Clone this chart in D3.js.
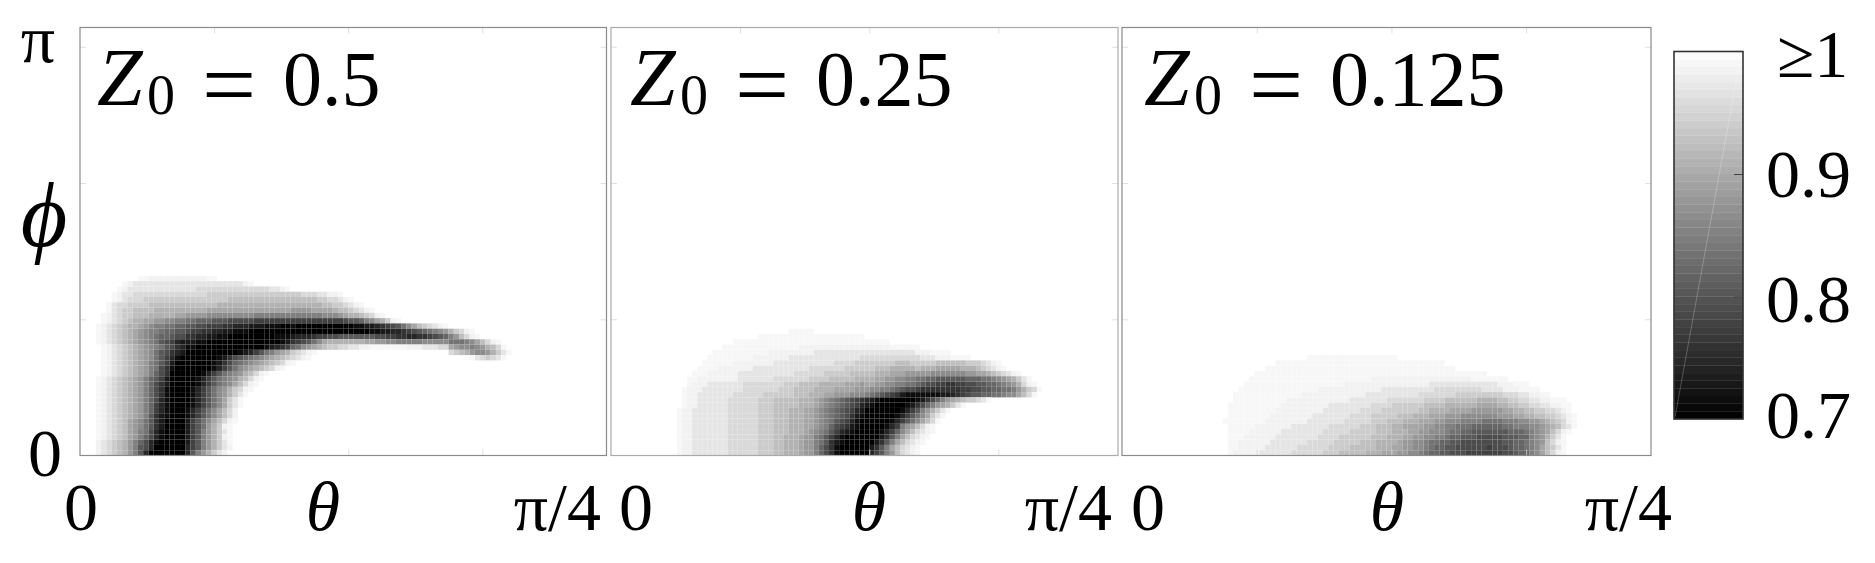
<!DOCTYPE html>
<html>
<head>
<meta charset="utf-8">
<script src="https://cdn.jsdelivr.net/npm/d3@7"></script>
<style>
	body { margin: 0; background: #fff; }
	text { font-family: "Liberation Serif", "Times New Roman", serif; fill: #000; }
</style>
</head>
<body>
<div id="chart"></div>
<script>
// one character per cell. "0" is 0.7 (black), each next key
// is a step lighter up to "k", "." means 1 or more (white). Spaces only keep the columns readable.
// rows run top to bottom, the last row sits on phi = 0, columns start at theta = 0
var rowsHalf = [
	".......... .kkjjjjjjj jjjjkk",
	"........kj iiiiiiiiii iiiiiiiiii ijk",
	".......kji iiiiiiiiii iihhhhhhhh hhhhhhiijk",
	"......kjii hhhhhhhhhh hhhhgggggg gggggggggg gghhhiijjk",
	"......kjih hhgggggggg ggggggggff ffffffffff fffffgghhi jk",
	".....kihhg gggfffffff ffffffeeee eeeeeeeeee eeeeeeffgg hijk",
	".....kihgg ffffeeeeee eeeedddddd dddddddddd ccccddddef fghijk",
	"....kjihgg fffeeeeedd ccccbbbbbb bbbaaaaaaa aaaaaabbbc deefghjk",
	"....kjihgf eeddccbbaa 9988877766 6665555555 5555555555 6778abdegj k",
	"...kjihgfe edcbaa9988 7766555443 3322211100 1000000000 0011223456 79bdfghijk",
	"...kjihgfe dcbaa98877 6554433221 1100000000 0000000000 0000011223 3456789abc eghjk",
	"...kjihgfe dcba988766 4433221100 0000000111 2333455667 7777776655 4433445678 acfhjk",
	"...kjihgfe dcba976532 2211000000 0000000012 45679bdeee eeeeddccbb aaaaabbbbb 999abdfhjk",
	"....kjihgf edcba97643 1100000000 0000012345 89bcdefggh hiijjkkkkk kkjjjiiihh dcbbabcefh k",
	"....kjihgf edcb976432 0000000000 123579acde ghijk..... .......... .......... hgfecbbceg ik",
	"....kjihgf edcb975310 0000001246 789abcdefg hijk...... .......... .......... ....kihghi k",
	"....kjihgf edca975200 0000012468 9abcdefghj k",
	"....kjihgf edca964100 0000013579 bcdefghjk",
	"....kjihgf edca864000 0001357 9ab cefhjk",
	"...kjihgfe dca8752000 0013579abc efhjk",
	"...kjihgfe dca8642000 0013579abd fhjk",
	"...kjihgfe dca8641000 013579bceg hjk",
	"...kjihgfe dca8641000 013579bceg ik",
	"...kjihgfe dca8631000 013579bdgi k",
	"...kjihgfe dca8531000 013579bdgi k",
	"...kjihgfe dca8531000 13579bdfhj",
	"...kjihgfe dca7421000 13579bdfhj",
	"...kjihgfd cb97420000 2579bdfhjk",
	"...kjihgfd cb97420000 2579cegjk",
	"...kjihgfd ca96310000 257acegik",
	"...kjihgfd ca86310000 257acegjk",
	"...jihgfec a863100000 257acegik",
	"...jihgfec a763000000 357acegij",
	"...jihgfec a730000000 37acegij"
];

var rowsQuarter = [
	".......... .......... .......... .....kkkkk",
	".......... .......... .........k kkkkkkkkkk kkkkkkkkkk",
	".......... .......... ....kkkkkk kkkkkkkkkk kkkkkkkkkk kkkkk",
	".......... .......... ..kkkkkkkk kkkkkkkjjj jjjjjjjjjj jjjjjkkkkk k",
	".......... .......... kkkkkkkkkk kjjjjjjjjj iiiiiiiiii iiiiiiiiii jjjkkkk",
	".......... .........k kkkkkkkkjj jjjjjiiiii iiiiiiiiih hhhhhhhhhh hiiijjjkkk k",
	".......... ........kk kkkkjjjjjj jjiiiiiiii iiiihhhhgg ggggggfffg ggggffffff ggghijk",
	".......... .......kkk kjjjjjjjii iiiiiiiiih hhhhhhgggg ggfffeeeee feeeddddde eefghijk",
	".......... ......kkkj jjjjjiiiii iiiiiihhhh hhgggggfff ffeeedddcc cccbbbbbbb ccddefghij k",
	".......... .....kkjjj jjjjjiiiii iihhhhhhhg gggfffffee eeddccbbaa 9988777777 88899abcde gik",
	".......... .....kjjji iiiiiihhhh hhhhgggfff feeeeedddc ddccbbaa99 8766554455 6677889abc ehjk",
	".......... ....kjjjii iiiiiihhhh hhhgggffff eeeeddddcc cbbaa98766 5444444445 566778899a ceghk",
	".......... ....kjjiii iiiihhhhhh ggggggfffe eeddcccbbb a987654211 1111122345 6778899abb dfhk",
	".......... ....kjjiii iiihhhhhhg ggfffffeee dcba987654 3210000000 12468acdef gghik",
	".......... ....kjjiii iiihhhhhhg ggfffffeee dcba987653 2100000012 468acdegik",
	".......... ...kjjiiii iiihhhhhhg ggfffeeedd cba9876532 0000000135 7acegik",
	".......... ...kjjiiii iiihhhhhhg ggfffeeedd cba9876421 0000001357 9bdgik",
	".......... ...kjjiiii iiihhhhhhg ggfffeeedd cba9765310 0000013579 bdfhk",
	".......... ...kjjiiii iiihhhhhhg ggfffeeedd cba8654210 0000135acd fhjk",
	".......... ...kjjiiii iiihhhhhhg ggfffeeedc ba97532100 0001358bdf hijk",
	".......... ...kjjiiii iiihhhhhhg ggffeeedcc a975310000 000247adfh ijk",
	".......... ...kjjiiii iiihhhhhhg ggffeeedcc a974210000 00247adfhi jk",
	".......... ...kjjiiii iiihhhhhhg ggffeeedcc a864100000 0247adfhij k",
	".......... ...kjjiiii iiihhhhhhg ggffeeedcc a864100000 0357acfhij k"
];

var rowsEighth = [
	".......... .......... .......... .....kkkkk kkkkkkkkkk kk",
	".......... .......... .........k kkkkkkkkkk kkkkkkkkkk kkkkkkkkkk k",
	".......... .......... .......kkk kkkkkkkkkk kkkkkkkkkk kkkkkkkkkk kkk",
	".......... .......... .....kkkkk kkkkkkkkkk kkkkkkkkkk kkkkkkkkkk kkkkkkkkk",
	".......... .......... ....kkkkkk kkkkkkkkkk kkkkkkkjjj jjjjjjjjjj jjjjjjkkkk kkk",
	".......... .......... ...kkkkkkk kkkkkkkkkk kkjjjjjjjj jjjjjjjjii iiiiiiiiii ijjjkkk",
	".......... .......... ..kkkkkkkk kkkkkkkjjj jjjjjjjjji iiiiiiiiih hhhhhhhhii iijjjkkkk",
	".......... .......... .kkkkkkkkk kkkkjjjjjj jjjjjjiiii iiiiiihhhh hhhggggggg gghhhiijjk k",
	".......... .......... .kkkkkkkkk kjjjjjjjjj jjjiiiiiii hhhhhhhggg gffffffeee effgghhiij jkkk",
	".......... .......... kkkkkkkkkk jjjjjjjjji iiiiiiihhh hggggggfff feeeeeeddd deeffgghhi ijjkk",
	".......... .......... kkkkkkkkkj jjjjjjjjii iiiiihhhhg ggggggffee eeddddcccc ccddeeffgg hhijk",
	".......... .......... kkkkkkkkjj jjjjjjiiii iiihhhhggg ggfffeeedd dcccbbbbbb bcccddeeff gghijk",
	".......... .........k kkkkkkkjjj jjjjjiiiii iihhhhhggg fffeeedddc cbbbaaaa99 99aaabbccd efghjk",
	".......... .......... kkkkkjjjjj jjiiiiiiih hhhhhgggff feeddddccb baa9998888 8899aaabbc defhik",
	".......... .......... kkkkjjjjjj iiiiiiiihh hhhgggggff feeeddccbb ba99887777 7778889abc dfhjk",
	".......... .......... kkkjjjjjji iiiiiiihhh hggggggfff eeeddccbba a988777666 6677788abc egik",
	".......... .......... kkjjjjjjii iiiiihhhhh gggggfffee eedccbba99 8877666666 6677889abc fhjk",
	".......... .......... kkjjjjjiii iiihhhhhhg gggfffffee eddccbba98 8776666665 6667889abd fgik",
	".......... .......... kjjjjjiiii iihhhhhhgg gfffffeeed ddccbba988 7766655555 5566788abd fhjk"
];

var panelRows = [rowsHalf, rowsQuarter, rowsEighth];
var panelLabels = ["0.5", "0.25", "0.125"];
var levelKeys = "0123456789abcdefghijk";
var thetaTicks = [0.2, 0.4, 0.6];
var phiTicks = [1, 2, 3];
var barTicks = [0.8, 0.9];
var barValues = [0.7, 0.8, 0.9, 1];
var barLabels = ["0.7", "0.8", "0.9", "\u22651"];
var xLabels = ["0", "\u03b8", "\u03c0/4"];

var nCols = 100;
var nRows = 81;

var panels = [
	{ left: 80, right: 606.5, frame: "#8a8a8a", labelX: 97, thetaX: 323, endX: 601, zeroX: 81 },
	{ left: 611, right: 1118, frame: "#aaaaaa", labelX: 630, thetaX: 869, endX: 1112, zeroX: 636 },
	{ left: 1122, right: 1651, frame: "#8a8a8a", labelX: 1144, thetaX: 1387, endX: 1672, zeroX: 1148 }
];
var plotTop = 27.5;
var plotBottom = 455.5;

var svg = d3.select("#chart")
	.append("svg")
	.attr("width", 1875)
	.attr("height", 563);

var color = d3.scaleLinear().domain([0.7, 1]).range(["#000000", "#ffffff"]);

function styleAxis(sel) {
	sel.select(".domain").remove();
	sel.selectAll(".tick line").attr("stroke", "#d8d8d8").attr("stroke-width", 0.8);
}

panels.forEach(function(p, i) {
	var g = svg.append("g");
	var x = d3.scaleBand().domain(d3.range(nCols)).range([p.left, p.right]);
	var y = d3.scaleBand().domain(d3.range(nRows)).range([plotBottom, plotTop]);

	var cells = [];
	var rows = panelRows[i];
	rows.forEach(function(row, ri) {
		row.replace(/ /g, "").split("").forEach(function(ch, c) {
			var k = levelKeys.indexOf(ch);
			if (k >= 0) {
				var grey = k == 20 ? 0.97 : k / 20;
				cells.push({ col: c, row: rows.length - 1 - ri, value: 0.7 + 0.3 * grey });
			}
		});
	});

	g.selectAll("rect.cell")
		.data(cells)
		.enter()
		.append("rect")
		.attr("class", "cell")
		.attr("x", function(d) { return x(d.col); })
		.attr("y", function(d) { return y(d.row); })
		.attr("width", x.bandwidth())
		.attr("height", y.bandwidth())
		.attr("fill", function(d) { return color(d.value); });

	// real axes of the plot, only very faint inner ticks are visible
	var tx = d3.scaleLinear().domain([0, Math.PI / 4]).range([p.left, p.right]);
	var ty = d3.scaleLinear().domain([0, Math.PI]).range([plotBottom, plotTop]);

	g.append("g")
		.attr("transform", "translate(0," + plotBottom + ")")
		.call(d3.axisBottom(tx).tickValues(thetaTicks).tickSize(-6).tickFormat(""))
		.call(styleAxis);
	g.append("g")
		.attr("transform", "translate(0," + plotTop + ")")
		.call(d3.axisTop(tx).tickValues(thetaTicks).tickSize(-6).tickFormat(""))
		.call(styleAxis);
	g.append("g")
		.attr("transform", "translate(" + p.left + ",0)")
		.call(d3.axisLeft(ty).tickValues(phiTicks).tickSize(-6).tickFormat(""))
		.call(styleAxis);
	g.append("g")
		.attr("transform", "translate(" + p.right + ",0)")
		.call(d3.axisRight(ty).tickValues(phiTicks).tickSize(-6).tickFormat(""))
		.call(styleAxis);

	g.append("rect")
		.attr("x", p.left)
		.attr("y", plotTop)
		.attr("width", p.right - p.left)
		.attr("height", plotBottom - plotTop)
		.attr("fill", "none")
		.attr("stroke", p.frame)
		.attr("stroke-width", 1.2);

	// Z0 = value
	g.append("text").attr("class", "lab").text("Z")
		.attr("x", p.labelX).attr("y", 105)
		.style("font-style", "italic").style("font-size", "82px");
	g.append("text").attr("class", "lab").text("0")
		.attr("x", p.labelX + 50).attr("y", 114)
		.style("font-size", "56px");
	g.append("text").attr("class", "lab").text("=")
		.attr("x", p.labelX + 105).attr("y", 117)
		.style("font-size", "96px");
	g.append("text").attr("class", "lab").text(panelLabels[i])
		.attr("x", p.labelX + 186).attr("y", 105)
		.style("font-size", "78px");

	// theta axis labels
	g.append("text").attr("class", "lab").text(xLabels[0])
		.attr("x", p.zeroX).attr("y", 530)
		.style("text-anchor", "middle").style("font-size", "68px");
	g.append("text").attr("class", "lab").text(xLabels[1])
		.attr("x", p.thetaX).attr("y", 530)
		.style("text-anchor", "middle").style("font-style", "italic").style("font-size", "70px");
	g.append("text").attr("class", "lab").text(xLabels[2])
		.attr("x", p.endX).attr("y", 530)
		.style("text-anchor", "end").style("font-size", "68px");
});

// phi axis labels
svg.append("text").text("\u03c0")
	.attr("x", 38).attr("y", 62)
	.style("text-anchor", "middle").style("font-size", "68px");
svg.append("text").text("\u03d5")
	.attr("x", 44).attr("y", 246)
	.style("text-anchor", "middle").style("font-style", "italic").style("font-size", "90px");
svg.append("text").text("0")
	.attr("x", 45).attr("y", 476)
	.style("text-anchor", "middle").style("font-size", "68px");

// colorbar
var barLeft = 1674, barRight = 1743;
var barY = d3.scaleLinear().domain([0.7, 1]).range([419, 51.5]);
var bandStep = 0.3 / 48;
var barBands = d3.range(48).map(function(k) { return 0.7 + k * bandStep; });
var bar = svg.append("g");

bar.selectAll("rect.band")
	.data(barBands)
	.enter()
	.append("rect")
	.attr("class", "band")
	.attr("x", barLeft)
	.attr("width", barRight - barLeft)
	.attr("y", function(d) { return barY(d + bandStep); })
	.attr("height", function(d) { return barY(d) - barY(d + bandStep); })
	.attr("fill", function(d) { return color(d + bandStep / 2); })
	.attr("stroke", function(d) { return color(d + bandStep / 2); })
	.attr("stroke-width", 0.3);

// seam of the two triangles the bar was painted with
bar.append("line")
	.attr("x1", barLeft + 1).attr("y1", 417)
	.attr("x2", barRight - 2).attr("y2", 55)
	.attr("stroke", "#ffffff")
	.attr("stroke-opacity", 0.3)
	.attr("stroke-width", 0.8);

bar.append("g")
	.attr("transform", "translate(" + barRight + ",0)")
	.call(d3.axisRight(barY).tickValues(barTicks).tickSize(-9).tickFormat(""))
	.call(function(sel) {
		sel.select(".domain").remove();
		sel.selectAll(".tick line").attr("stroke", "#444").attr("stroke-width", 1);
	});

bar.append("rect")
	.attr("x", barLeft)
	.attr("y", barY(1))
	.attr("width", barRight - barLeft)
	.attr("height", barY(0.7) - barY(1))
	.attr("fill", "none")
	.attr("stroke", "#333")
	.attr("stroke-width", 1.6);

var barLabelY = [438, 322, 197, 77];
bar.selectAll("text.bar-label")
	.data(barLabels)
	.enter()
	.append("text")
	.attr("class", "bar-label")
	.text(function(d) { return d; })
	.attr("x", function(d, i) { return barValues[i] == 1 ? 1777 : 1766; })
	.attr("y", function(d, i) { return barLabelY[i]; })
	.style("font-size", "68px");
</script>
</body>
</html>
